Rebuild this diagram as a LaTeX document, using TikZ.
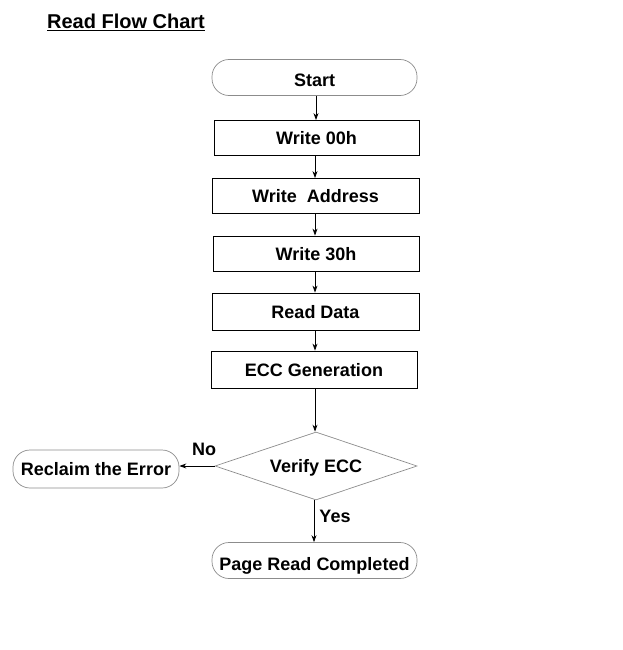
\documentclass[tikz,border=0pt]{standalone}
\usepackage{fontspec}
\setmainfont{Liberation Sans}
\usetikzlibrary{arrows.meta,shapes.geometric}
\tikzset{
  stepbox/.style={draw,line width=0.8pt,minimum width=205pt,minimum height=35pt,inner sep=0pt,text height=13pt,text depth=0pt,font=\fontsize{18}{20}\selectfont\bfseries},
  termbox/.style={draw=black!45,line width=0.7pt,rounded corners=17pt,minimum height=36pt,inner sep=0pt,text height=19pt,text depth=0pt,font=\fontsize{18}{20}\selectfont\bfseries},
  flow/.style={line width=0.8pt,-{Stealth[length=7pt,width=5pt]}},
  lbl/.style={font=\fontsize{18}{20}\selectfont\bfseries}
}
\begin{document}
\begin{tikzpicture}[x=1pt,y=-1pt]
  \useasboundingbox (0,0) rectangle (623,650);
  %% title
  \node[lbl,font=\fontsize{20}{22}\selectfont\bfseries] (title) at (126,22) {\underline{Read Flow Chart}};
  %% main column
  \node[termbox,minimum width=205pt] (start) at (314.5,77.5) {Start};
  \node[stepbox] (wr00) at (316.5,138) {Write 00h};
  \node[stepbox,minimum width=207pt] (wraddr) at (315.5,196) {Write\ \ Address};
  \node[stepbox,minimum width=206pt] (wr30) at (316,253.5) {Write 30h};
  \node[stepbox,minimum width=207pt,minimum height=37pt] (rdata) at (315.5,311.5) {Read Data};
  \node[stepbox,minimum width=206pt,minimum height=37pt] (eccgen) at (314,369.5) {ECC Generation};
  \node[diamond,draw=black!45,line width=0.7pt,minimum width=202pt,minimum height=68pt,inner sep=0pt,aspect=3,lbl,text height=13pt,text depth=0pt] (verify) at (316,466) {Verify ECC};
  %% outcomes
  \node[termbox,minimum width=166pt,minimum height=38pt,text height=13pt] (reclaim) at (96,469) {Reclaim the Error};
  \node[termbox,minimum width=205pt] (done) at (314.5,560.5) {Page Read Completed};
  %% connectors
  \draw[flow] (start.south -| 316,0) -- (wr00.north -| 316,0);
  \draw[flow] (wr00.south -| 315,0) -- (wraddr.north -| 315,0);
  \draw[flow] (wraddr.south -| 315,0) -- (wr30.north -| 315,0);
  \draw[flow] (wr30.south -| 315,0) -- (rdata.north -| 315,0);
  \draw[flow] (rdata.south -| 315,0) -- (eccgen.north -| 315,0);
  \draw[flow] (eccgen.south -| 315,0) -- (verify.north -| 315,0);
  \draw[flow] (verify.west) -- (verify.west -| reclaim.east);
  \draw[flow] (verify.south -| 314,0) -- (done.north -| 314,0);
  %% labels
  \node[lbl] (no) at (204,449) {No};
  \node[lbl] (yes) at (335,516) {Yes};
\end{tikzpicture}
\end{document}
